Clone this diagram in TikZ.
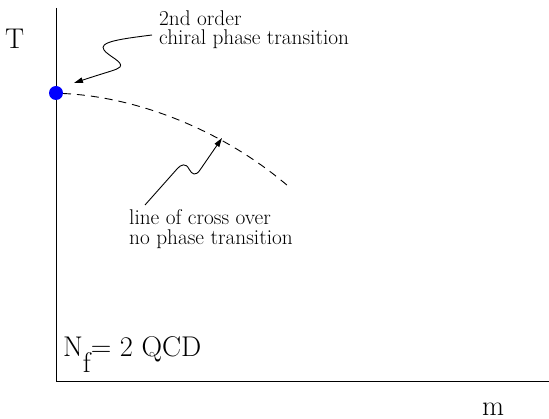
\documentclass[tikz,border=0pt]{standalone}
\usetikzlibrary{arrows.meta}
\begin{document}
\begin{tikzpicture}[x=1pt,y=-1pt,
  big/.style={inner sep=0pt,anchor=base west,font=\fontsize{28.5}{28.5}\selectfont},
  small/.style={inner sep=0pt,anchor=base west,font=\fontsize{21.3}{19}\selectfont},
  axis/.style={line width=1pt},
  pointer/.style={line width=0.9pt,-{Triangle[length=9pt,width=5.5pt]}},
  crossover/.style={line width=0.9pt,dash pattern=on 8pt off 6pt},
  critpt/.style={circle,fill=blue,inner sep=0pt,minimum size=14pt}]
\useasboundingbox (0,0) rectangle (549,419);
% axes
\coordinate (ytop) at (56,8);
\coordinate (orig) at (56,382);
\coordinate (xend) at (549,382);
\draw[axis] (ytop) -- (orig) -- (xend);
% labels
\node[big] (tlab) at (5,49) {T};
\node[big] (mlab) at (482,416) {m};
\node[big] (nf) at (63,357) {N\raisebox{-16pt}{f}= 2 QCD};
\node[small] (ann1a) at (159,26) {2nd order};
\node[small] (ann1b) at (159,45) {chiral phase transition};
\node[small] (ann2a) at (129,225) {line of cross over};
\node[small] (ann2b) at (129,245) {no phase transition};
% crossover line
\coordinate (cstart) at (63,93.5);
\coordinate (cend) at (288,186);
\draw[crossover] (cstart) .. controls (140,97) and (225,132) .. (cend);
% critical point
\node[critpt] (cp) at (56,93) {};
% pointers
\coordinate (p1s) at (152,35);
\coordinate (p1e) at (74,83);
\draw[pointer] (p1s) .. controls (120,39) and (98,42) .. (104,50)
  .. controls (108,56) and (124,62) .. (120,67)
  .. controls (117,70) and (110,71) .. (p1e);
\coordinate (p2s) at (145,205);
\coordinate (p2e) at (222,138);
\draw[pointer] (p2s) -- (177,169) .. controls (181,164) and (186,163) .. (189,169)
  .. controls (192,175) and (196,176) .. (200,170) -- (p2e);
\end{tikzpicture}
\end{document}
